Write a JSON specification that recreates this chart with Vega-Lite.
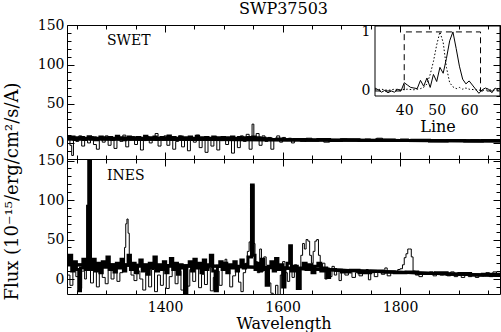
{
  "$schema": "https://vega.github.io/schema/vega-lite/v6.json",
  "background": "white",
  "padding": {"left": 2, "top": 0, "right": 2, "bottom": 0},
  "spacing": 0,
  "bounds": "flush",
  "config": {
    "view": {"stroke": "black", "strokeWidth": 1},
    "axis": {"domain": false, "grid": false, "ticks": true, "tickColor": "black", "tickWidth": 1, "labelColor": "black", "labelFont": "DejaVu Serif", "labelFontSize": 14, "titleColor": "black", "titleFont": "DejaVu Serif", "titleFontSize": 16, "titleFontWeight": "normal", "labelFlush": false, "labelOverlap": false}
  },
  "datasets": {
    "bt": [{"w":1233,"f":5},{"w":1238,"f":-8},{"w":1243,"f":18},{"w":1248,"f":3},{"w":1253,"f":-12},{"w":1258,"f":10},{"w":1263,"f":0},{"w":1266,"f":25},{"w":1268,"f":20},{"w":1273,"f":-5},{"w":1278,"f":12},{"w":1283,"f":-10},{"w":1288,"f":15},{"w":1293,"f":2},{"w":1298,"f":-6},{"w":1303,"f":14},{"w":1308,"f":0},{"w":1313,"f":18},{"w":1318,"f":-3},{"w":1323,"f":8},{"w":1328,"f":15},{"w":1331,"f":40},{"w":1333,"f":70},{"w":1335,"f":76},{"w":1337,"f":58},{"w":1339,"f":25},{"w":1342,"f":5},{"w":1347,"f":-2},{"w":1352,"f":10},{"w":1357,"f":0},{"w":1362,"f":-14},{"w":1367,"f":8},{"w":1372,"f":-10},{"w":1377,"f":12},{"w":1382,"f":-16},{"w":1387,"f":5},{"w":1392,"f":-8},{"w":1397,"f":15},{"w":1402,"f":-12},{"w":1407,"f":3},{"w":1412,"f":18},{"w":1417,"f":-6},{"w":1422,"f":10},{"w":1427,"f":-14},{"w":1432,"f":4},{"w":1437,"f":-9},{"w":1442,"f":12},{"w":1447,"f":-3},{"w":1452,"f":16},{"w":1457,"f":-11},{"w":1462,"f":6},{"w":1467,"f":-7},{"w":1472,"f":14},{"w":1477,"f":-15},{"w":1482,"f":2},{"w":1487,"f":10},{"w":1492,"f":-8},{"w":1497,"f":20},{"w":1502,"f":25},{"w":1505,"f":12},{"w":1510,"f":-10},{"w":1515,"f":4},{"w":1520,"f":15},{"w":1525,"f":-4},{"w":1529,"f":-16},{"w":1533,"f":8},{"w":1537,"f":20},{"w":1540,"f":35},{"w":1543,"f":47},{"w":1546,"f":75},{"w":1548,"f":119},{"w":1551,"f":45},{"w":1553,"f":22},{"w":1557,"f":8},{"w":1561,"f":38},{"w":1564,"f":10},{"w":1568,"f":28},{"w":1572,"f":5},{"w":1576,"f":-5},{"w":1580,"f":-18},{"w":1584,"f":-20},{"w":1588,"f":-8},{"w":1592,"f":-20},{"w":1596,"f":5},{"w":1600,"f":22},{"w":1604,"f":8},{"w":1608,"f":-3},{"w":1612,"f":15},{"w":1616,"f":2},{"w":1620,"f":18},{"w":1624,"f":6},{"w":1628,"f":12},{"w":1631,"f":30},{"w":1634,"f":45},{"w":1637,"f":38},{"w":1640,"f":50},{"w":1643,"f":48},{"w":1646,"f":30},{"w":1649,"f":20},{"w":1652,"f":35},{"w":1655,"f":48},{"w":1658,"f":50},{"w":1661,"f":30},{"w":1664,"f":12},{"w":1668,"f":20},{"w":1672,"f":0},{"w":1676,"f":14},{"w":1680,"f":3},{"w":1684,"f":16},{"w":1688,"f":5},{"w":1692,"f":10},{"w":1696,"f":-2},{"w":1700,"f":12},{"w":1706,"f":5},{"w":1712,"f":10},{"w":1718,"f":2},{"w":1724,"f":8},{"w":1730,"f":4},{"w":1736,"f":9},{"w":1742,"f":12},{"w":1746,"f":-1},{"w":1750,"f":8},{"w":1756,"f":3},{"w":1762,"f":10},{"w":1768,"f":6},{"w":1774,"f":14},{"w":1778,"f":4},{"w":1784,"f":9},{"w":1790,"f":7},{"w":1796,"f":12},{"w":1800,"f":13},{"w":1804,"f":18},{"w":1807,"f":27},{"w":1810,"f":32},{"w":1813,"f":38},{"w":1816,"f":38},{"w":1819,"f":28},{"w":1822,"f":10},{"w":1826,"f":5},{"w":1832,"f":3},{"w":1838,"f":8},{"w":1844,"f":6},{"w":1850,"f":9},{"w":1856,"f":4},{"w":1862,"f":8},{"w":1868,"f":5},{"w":1874,"f":7},{"w":1880,"f":4},{"w":1886,"f":9},{"w":1892,"f":3},{"w":1898,"f":6},{"w":1904,"f":2},{"w":1910,"f":7},{"w":1916,"f":3},{"w":1922,"f":6},{"w":1928,"f":2},{"w":1934,"f":5},{"w":1940,"f":4},{"w":1946,"f":8},{"w":1952,"f":3},{"w":1958,"f":9},{"w":1964,"f":5},{"w":1970,"f":6}],
    "bk": [{"w":1233,"f":20},{"w":1237,"f":30},{"w":1241,"f":10},{"w":1245,"f":22},{"w":1249,"f":12},{"w":1253,"f":-15},{"w":1256,"f":14},{"w":1260,"f":25},{"w":1264,"f":12},{"w":1268,"f":92},{"w":1270,"f":153},{"w":1273,"f":12},{"w":1277,"f":25},{"w":1281,"f":10},{"w":1285,"f":20},{"w":1289,"f":8},{"w":1293,"f":22},{"w":1297,"f":15},{"w":1301,"f":28},{"w":1305,"f":12},{"w":1309,"f":18},{"w":1313,"f":9},{"w":1317,"f":20},{"w":1321,"f":14},{"w":1325,"f":25},{"w":1329,"f":10},{"w":1333,"f":18},{"w":1337,"f":30},{"w":1341,"f":12},{"w":1345,"f":20},{"w":1349,"f":8},{"w":1353,"f":16},{"w":1357,"f":24},{"w":1361,"f":10},{"w":1365,"f":18},{"w":1369,"f":6},{"w":1373,"f":20},{"w":1377,"f":14},{"w":1381,"f":28},{"w":1385,"f":10},{"w":1389,"f":18},{"w":1393,"f":12},{"w":1397,"f":22},{"w":1401,"f":8},{"w":1405,"f":16},{"w":1409,"f":26},{"w":1413,"f":12},{"w":1417,"f":20},{"w":1421,"f":6},{"w":1425,"f":18},{"w":1429,"f":14},{"w":1433,"f":-18},{"w":1437,"f":16},{"w":1441,"f":22},{"w":1445,"f":10},{"w":1449,"f":25},{"w":1453,"f":14},{"w":1457,"f":20},{"w":1461,"f":8},{"w":1465,"f":24},{"w":1469,"f":12},{"w":1473,"f":18},{"w":1477,"f":30},{"w":1481,"f":10},{"w":1485,"f":-15},{"w":1489,"f":16},{"w":1493,"f":22},{"w":1497,"f":12},{"w":1501,"f":20},{"w":1505,"f":8},{"w":1509,"f":18},{"w":1513,"f":14},{"w":1517,"f":22},{"w":1521,"f":10},{"w":1525,"f":16},{"w":1529,"f":24},{"w":1533,"f":14},{"w":1537,"f":18},{"w":1541,"f":28},{"w":1547,"f":119},{"w":1550,"f":30},{"w":1553,"f":12},{"w":1556,"f":20},{"w":1560,"f":10},{"w":1564,"f":25},{"w":1568,"f":12},{"w":1572,"f":-8},{"w":1576,"f":16},{"w":1580,"f":22},{"w":1584,"f":10},{"w":1588,"f":26},{"w":1592,"f":12},{"w":1596,"f":18},{"w":1600,"f":-10},{"w":1604,"f":14},{"w":1608,"f":20},{"w":1612,"f":42},{"w":1615,"f":10},{"w":1620,"f":16},{"w":1625,"f":-12},{"w":1630,"f":14},{"w":1635,"f":20},{"w":1640,"f":12},{"w":1645,"f":18},{"w":1650,"f":8},{"w":1655,"f":16},{"w":1660,"f":20},{"w":1665,"f":10},{"w":1670,"f":14},{"w":1675,"f":2},{"w":1680,"f":12},{"w":1690,"f":11},{"w":1700,"f":9},{"w":1715,"f":11},{"w":1730,"f":8},{"w":1750,"f":10},{"w":1770,"f":9},{"w":1790,"f":8},{"w":1810,"f":9},{"w":1830,"f":7},{"w":1860,"f":8},{"w":1880,"f":6},{"w":1900,"f":7},{"w":1920,"f":5},{"w":1940,"f":6},{"w":1970,"f":5}],
    "bf": [{"w":1233,"f":18},{"w":1400,"f":17},{"w":1500,"f":16},{"w":1600,"f":14},{"w":1700,"f":11},{"w":1800,"f":8.5},{"w":1900,"f":6},{"w":1970,"f":4.5}],
    "tt": [{"w":1233,"f":8},{"w":1238,"f":-3},{"w":1241,"f":-16},{"w":1244,"f":6},{"w":1248,"f":2},{"w":1253,"f":9},{"w":1258,"f":-4},{"w":1263,"f":7},{"w":1268,"f":0},{"w":1273,"f":8},{"w":1278,"f":-2},{"w":1283,"f":-8},{"w":1288,"f":6},{"w":1293,"f":1},{"w":1298,"f":9},{"w":1303,"f":-3},{"w":1308,"f":5},{"w":1313,"f":-7},{"w":1318,"f":7},{"w":1323,"f":2},{"w":1328,"f":10},{"w":1333,"f":-5},{"w":1338,"f":4},{"w":1343,"f":8},{"w":1348,"f":-2},{"w":1353,"f":6},{"w":1358,"f":-9},{"w":1363,"f":3},{"w":1368,"f":8},{"w":1373,"f":0},{"w":1378,"f":6},{"w":1383,"f":12},{"w":1388,"f":-4},{"w":1393,"f":5},{"w":1398,"f":9},{"w":1403,"f":-3},{"w":1408,"f":7},{"w":1413,"f":-8},{"w":1418,"f":2},{"w":1423,"f":9},{"w":1428,"f":-5},{"w":1433,"f":4},{"w":1438,"f":-10},{"w":1443,"f":7},{"w":1448,"f":1},{"w":1453,"f":10},{"w":1458,"f":-6},{"w":1463,"f":4},{"w":1468,"f":-12},{"w":1473,"f":6},{"w":1478,"f":-4},{"w":1483,"f":8},{"w":1488,"f":-9},{"w":1493,"f":3},{"w":1498,"f":7},{"w":1503,"f":-2},{"w":1508,"f":5},{"w":1513,"f":-13},{"w":1518,"f":6},{"w":1523,"f":-6},{"w":1528,"f":9},{"w":1533,"f":2},{"w":1538,"f":11},{"w":1543,"f":-8},{"w":1548,"f":24},{"w":1551,"f":4},{"w":1555,"f":12},{"w":1560,"f":-3},{"w":1565,"f":9},{"w":1570,"f":2},{"w":1575,"f":7},{"w":1580,"f":-8},{"w":1585,"f":5},{"w":1590,"f":9},{"w":1595,"f":1},{"w":1600,"f":7},{"w":1605,"f":3},{"w":1610,"f":6},{"w":1615,"f":0},{"w":1620,"f":5},{"w":1630,"f":2},{"w":1640,"f":6},{"w":1650,"f":3},{"w":1660,"f":5},{"w":1670,"f":1},{"w":1680,"f":4},{"w":1690,"f":2},{"w":1700,"f":5},{"w":1710,"f":3},{"w":1720,"f":4},{"w":1730,"f":2},{"w":1740,"f":5},{"w":1750,"f":3},{"w":1760,"f":6},{"w":1770,"f":2},{"w":1780,"f":4},{"w":1790,"f":3},{"w":1800,"f":5},{"w":1815,"f":3},{"w":1830,"f":4},{"w":1845,"f":2},{"w":1860,"f":4},{"w":1875,"f":2},{"w":1890,"f":3},{"w":1905,"f":2},{"w":1920,"f":4},{"w":1935,"f":2},{"w":1950,"f":3},{"w":1970,"f":2}],
    "tk": [{"w":1233,"f":7},{"w":1237,"f":5},{"w":1241,"f":7.5},{"w":1245,"f":4.5},{"w":1249,"f":6.5},{"w":1253,"f":5},{"w":1257,"f":7},{"w":1261,"f":4.5},{"w":1265,"f":6},{"w":1269,"f":8},{"w":1273,"f":5},{"w":1277,"f":6.5},{"w":1281,"f":4},{"w":1285,"f":6},{"w":1289,"f":7.5},{"w":1293,"f":5},{"w":1297,"f":6.5},{"w":1301,"f":5},{"w":1305,"f":7},{"w":1309,"f":4.5},{"w":1313,"f":6},{"w":1317,"f":8.5},{"w":1321,"f":5},{"w":1325,"f":6.5},{"w":1329,"f":4},{"w":1333,"f":6},{"w":1337,"f":7.5},{"w":1341,"f":5},{"w":1345,"f":6.5},{"w":1349,"f":5},{"w":1353,"f":7},{"w":1357,"f":4.5},{"w":1361,"f":6},{"w":1365,"f":8.5},{"w":1369,"f":5},{"w":1373,"f":6.5},{"w":1377,"f":5},{"w":1381,"f":7.5},{"w":1385,"f":4.5},{"w":1389,"f":6},{"w":1393,"f":7},{"w":1397,"f":5},{"w":1401,"f":6.5},{"w":1405,"f":9},{"w":1409,"f":5},{"w":1413,"f":7},{"w":1417,"f":4.5},{"w":1421,"f":6},{"w":1425,"f":7.5},{"w":1429,"f":5},{"w":1433,"f":6.5},{"w":1437,"f":5},{"w":1441,"f":7.5},{"w":1445,"f":4.5},{"w":1449,"f":6},{"w":1453,"f":8.5},{"w":1457,"f":5},{"w":1461,"f":6.5},{"w":1465,"f":5},{"w":1469,"f":7},{"w":1473,"f":4.5},{"w":1477,"f":6},{"w":1481,"f":7.5},{"w":1485,"f":5},{"w":1489,"f":6.5},{"w":1493,"f":5},{"w":1497,"f":7},{"w":1501,"f":5},{"w":1505,"f":6.5},{"w":1509,"f":5},{"w":1513,"f":7.5},{"w":1517,"f":4.5},{"w":1521,"f":6},{"w":1525,"f":7},{"w":1529,"f":5},{"w":1533,"f":6.5},{"w":1537,"f":5},{"w":1541,"f":7},{"w":1545,"f":5},{"w":1549,"f":7.5},{"w":1553,"f":5},{"w":1557,"f":6.5},{"w":1561,"f":4.5},{"w":1565,"f":6},{"w":1570,"f":5},{"w":1575,"f":5.5},{"w":1580,"f":4.5},{"w":1590,"f":5},{"w":1600,"f":4},{"w":1620,"f":4.5},{"w":1640,"f":3.5},{"w":1660,"f":4.5},{"w":1680,"f":3},{"w":1700,"f":4},{"w":1730,"f":3},{"w":1760,"f":3.8},{"w":1790,"f":3},{"w":1820,"f":3.5},{"w":1850,"f":2.5},{"w":1880,"f":3.2},{"w":1910,"f":2.5},{"w":1940,"f":3},{"w":1970,"f":2.5}],
    "tf": [{"w":1233,"f":5.5},{"w":1970,"f":2.5}],
    "is": [{"l":31,"v":0.05},{"l":32,"v":0.02},{"l":33,"v":-0.02},{"l":34,"v":0.01},{"l":35,"v":-0.03},{"l":36,"v":0.0},{"l":37,"v":-0.02},{"l":38,"v":0.03},{"l":39,"v":0.0},{"l":40,"v":0.14},{"l":41,"v":0.1},{"l":42,"v":0.06},{"l":43,"v":0.05},{"l":44,"v":0.04},{"l":45,"v":0.18},{"l":46,"v":0.08},{"l":47,"v":0.22},{"l":48,"v":0.06},{"l":49,"v":0.28},{"l":50,"v":0.16},{"l":51,"v":0.4},{"l":52,"v":0.3},{"l":53,"v":0.55},{"l":54,"v":0.85},{"l":55,"v":1.0},{"l":56,"v":0.72},{"l":57,"v":0.42},{"l":58,"v":0.2},{"l":59,"v":0.12},{"l":60,"v":0.17},{"l":61,"v":0.1},{"l":62,"v":0.03},{"l":63,"v":-0.04},{"l":64,"v":0.02},{"l":65,"v":0.05},{"l":66,"v":0.03},{"l":67,"v":-0.03},{"l":68,"v":0.05},{"l":69,"v":0.01},{"l":69.5,"v":0.04}],
    "id": [{"l":31,"v":0.02},{"l":33,"v":0.03},{"l":35,"v":0.01},{"l":37,"v":0.03},{"l":39,"v":0.02},{"l":41,"v":0.03},{"l":43,"v":0.02},{"l":45,"v":0.04},{"l":46,"v":0.06},{"l":47,"v":0.12},{"l":48,"v":0.28},{"l":49,"v":0.5},{"l":50,"v":0.78},{"l":51,"v":1.0},{"l":52,"v":0.82},{"l":53,"v":0.4},{"l":54,"v":0.14},{"l":55,"v":0.07},{"l":56,"v":0.04},{"l":57,"v":0.06},{"l":58,"v":0.03},{"l":59,"v":0.05},{"l":60,"v":0.03},{"l":62,"v":0.02},{"l":64,"v":0.01},{"l":66,"v":0.02},{"l":69.5,"v":0.01}],
    "ih": [{"l":31,"v":0},{"l":40,"v":1},{"l":63.5,"v":0},{"l":69.5,"v":0}]
  },
  "vconcat": [
    {
      "title": {"text": "SWP37503", "frame": "group", "anchor": "middle", "offset": 1, "fontSize": 16, "font": "DejaVu Serif", "fontWeight": "normal", "color": "black"},
      "width": 433,
      "height": 134,
      "layer": [
        {
          "data": {"name": "tt"},
          "mark": {"type": "line", "interpolate": "step-after", "color": "black", "strokeWidth": 1, "clip": true},
          "encoding": {
            "x": {"field": "w", "type": "quantitative", "scale": {"domain": [1233, 1970], "nice": false, "zero": false}, "axis": {"orient": "bottom", "values": [1400, 1600, 1800], "tickSize": -7, "labels": false, "title": null}},
            "y": {"field": "f", "type": "quantitative", "scale": {"domain": [-20.5, 150.5], "nice": false, "zero": false}, "axis": {"orient": "left", "values": [0, 50, 100, 150], "tickSize": -7, "labelPadding": 10, "title": null}}
          }
        },
        {
          "data": {"name": "tk"},
          "mark": {"type": "line", "interpolate": "step-after", "color": "black", "strokeWidth": 3, "clip": true},
          "encoding": {
            "x": {"field": "w", "type": "quantitative", "scale": {"domain": [1233, 1970], "nice": false, "zero": false}, "axis": {"orient": "bottom", "values": [1250, 1300, 1350, 1450, 1500, 1550, 1650, 1700, 1750, 1850, 1900, 1950], "tickSize": -4, "labels": false, "title": null}},
            "y": {"field": "f", "type": "quantitative", "scale": {"domain": [-20.5, 150.5], "nice": false, "zero": false}, "axis": {"orient": "left", "values": [-10, 10, 20, 30, 40, 60, 70, 80, 90, 110, 120, 130, 140], "tickSize": -4, "labels": false, "title": null}}
          }
        },
        {
          "data": {"name": "tf"},
          "mark": {"type": "line", "color": "black", "strokeWidth": 3, "clip": true},
          "encoding": {
            "x": {"field": "w", "type": "quantitative", "scale": {"domain": [1233, 1970], "nice": false, "zero": false}, "axis": {"orient": "top", "values": [1400, 1600, 1800], "tickSize": -7, "labels": false, "title": null}},
            "y": {"field": "f", "type": "quantitative", "scale": {"domain": [-20.5, 150.5], "nice": false, "zero": false}, "axis": {"orient": "right", "values": [0, 50, 100, 150], "tickSize": -7, "labels": false, "title": null}}
          }
        },
        {
          "data": {"name": "tf"},
          "mark": {"type": "line", "color": "black", "strokeWidth": 3, "clip": true},
          "encoding": {
            "x": {"field": "w", "type": "quantitative", "scale": {"domain": [1233, 1970], "nice": false, "zero": false}, "axis": {"orient": "top", "values": [1250, 1300, 1350, 1450, 1500, 1550, 1650, 1700, 1750, 1850, 1900, 1950], "tickSize": -4, "labels": false, "title": null}},
            "y": {"field": "f", "type": "quantitative", "scale": {"domain": [-20.5, 150.5], "nice": false, "zero": false}, "axis": {"orient": "right", "values": [-10, 10, 20, 30, 40, 60, 70, 80, 90, 110, 120, 130, 140], "tickSize": -4, "labels": false, "title": null}}
          }
        },
        {
          "data": {"values": [{}]},
          "mark": {"type": "text", "text": "SWET", "align": "left", "baseline": "middle", "font": "DejaVu Serif", "fontSize": 14, "color": "black"},
          "encoding": {
            "x": {"datum": 1301, "type": "quantitative", "scale": {"domain": [1233, 1970], "nice": false, "zero": false}, "axis": null},
            "y": {"datum": 130, "type": "quantitative", "scale": {"domain": [-20.5, 150.5], "nice": false, "zero": false}, "axis": null}
          }
        },
        {
          "data": {"name": "ih"},
          "mark": {"type": "line", "interpolate": "step-after", "color": "black", "strokeWidth": 1, "strokeDash": [6, 4]},
          "encoding": {
            "x": {"field": "l", "type": "quantitative", "scale": {"domain": [31, 69.5], "range": [308, 433], "nice": false, "zero": false}, "axis": null},
            "y": {"field": "v", "type": "quantitative", "scale": {"domain": [-0.085, 1.1], "range": [71, 1], "nice": false, "zero": false}, "axis": null}
          }
        },
        {
          "data": {"name": "id"},
          "mark": {"type": "line", "color": "black", "strokeWidth": 1, "strokeDash": [1.5, 2]},
          "encoding": {
            "x": {"field": "l", "type": "quantitative", "scale": {"domain": [31, 69.5], "range": [308, 433], "nice": false, "zero": false}, "axis": null},
            "y": {"field": "v", "type": "quantitative", "scale": {"domain": [-0.085, 1.1], "range": [71, 1], "nice": false, "zero": false}, "axis": null}
          }
        },
        {
          "data": {"name": "is"},
          "mark": {"type": "line", "color": "black", "strokeWidth": 1},
          "encoding": {
            "x": {"field": "l", "type": "quantitative", "scale": {"domain": [31, 69.5], "range": [308, 433], "nice": false, "zero": false}, "axis": {"orient": "bottom", "offset": -63, "values": [40, 50, 60], "format": "d", "tickSize": 0, "labelPadding": 7, "title": "Line", "titlePadding": 1}},
            "y": {"field": "v", "type": "quantitative", "scale": {"domain": [-0.085, 1.1], "range": [71, 1], "nice": false, "zero": false}, "axis": {"orient": "left", "offset": -308, "values": [0, 1], "format": "d", "tickSize": 0, "labelPadding": 5, "title": null}}
          }
        },
        {
          "data": {"values": [{}]},
          "mark": {"type": "rect", "fill": "transparent", "stroke": "black", "strokeWidth": 1},
          "encoding": {
            "x": {"datum": 31, "type": "quantitative", "scale": {"domain": [31, 69.5], "range": [308, 433], "nice": false, "zero": false}, "axis": null},
            "x2": {"datum": 69.5},
            "y": {"datum": -0.085, "type": "quantitative", "scale": {"domain": [-0.085, 1.1], "range": [71, 1], "nice": false, "zero": false}, "axis": null},
            "y2": {"datum": 1.1}
          }
        }
      ],
      "resolve": {"scale": {"x": "independent", "y": "independent"}, "axis": {"x": "independent", "y": "independent"}}
    },
    {
      "width": 433,
      "height": 135,
      "layer": [
        {
          "data": {"name": "bt"},
          "mark": {"type": "line", "interpolate": "step-after", "color": "black", "strokeWidth": 1, "clip": true},
          "encoding": {
            "x": {"field": "w", "type": "quantitative", "scale": {"domain": [1233, 1970], "nice": false, "zero": false}, "axis": {"orient": "bottom", "values": [1400, 1600, 1800], "format": "d", "tickSize": -7, "labelPadding": 13.5, "title": "Wavelength", "titlePadding": 1}},
            "y": {"field": "f", "type": "quantitative", "scale": {"domain": [-19, 152], "nice": false, "zero": false}, "axis": {"orient": "left", "values": [0, 50, 100, 150], "tickSize": -7, "labelPadding": 10, "title": "Flux (10⁻¹⁵/erg/cm²/s/A)", "titleFontSize": 18, "titleX": -55, "titleY": 32, "titleBaseline": "middle", "titleAlign": "center", "titleAngle": -90}}
          }
        },
        {
          "data": {"name": "bk"},
          "mark": {"type": "line", "interpolate": "step-after", "color": "black", "strokeWidth": 3, "clip": true},
          "encoding": {
            "x": {"field": "w", "type": "quantitative", "axis": {"orient": "bottom", "values": [1250, 1300, 1350, 1450, 1500, 1550, 1650, 1700, 1750, 1850, 1900, 1950], "tickSize": -4, "labels": false, "title": null}},
            "y": {"field": "f", "type": "quantitative", "axis": {"orient": "left", "values": [-10, 10, 20, 30, 40, 60, 70, 80, 90, 110, 120, 130, 140], "tickSize": -4, "labels": false, "title": null}}
          }
        },
        {
          "data": {"name": "bf"},
          "mark": {"type": "line", "color": "black", "strokeWidth": 3, "clip": true},
          "encoding": {
            "x": {"field": "w", "type": "quantitative", "axis": {"orient": "top", "values": [1400, 1600, 1800], "tickSize": -7, "labels": false, "title": null}},
            "y": {"field": "f", "type": "quantitative", "axis": {"orient": "right", "values": [0, 50, 100, 150], "tickSize": -7, "labels": false, "title": null}}
          }
        },
        {
          "data": {"name": "bf"},
          "mark": {"type": "line", "color": "black", "strokeWidth": 3, "clip": true},
          "encoding": {
            "x": {"field": "w", "type": "quantitative", "axis": {"orient": "top", "values": [1250, 1300, 1350, 1450, 1500, 1550, 1650, 1700, 1750, 1850, 1900, 1950], "tickSize": -4, "labels": false, "title": null}},
            "y": {"field": "f", "type": "quantitative", "axis": {"orient": "right", "values": [-10, 10, 20, 30, 40, 60, 70, 80, 90, 110, 120, 130, 140], "tickSize": -4, "labels": false, "title": null}}
          }
        },
        {
          "data": {"values": [{}]},
          "mark": {"type": "text", "text": "INES", "align": "left", "baseline": "middle", "font": "DejaVu Serif", "fontSize": 14, "color": "black"},
          "encoding": {
            "x": {"datum": 1301, "type": "quantitative", "axis": null},
            "y": {"datum": 131, "type": "quantitative", "axis": null}
          }
        }
      ],
      "resolve": {"axis": {"x": "independent", "y": "independent"}}
    }
  ]
}
